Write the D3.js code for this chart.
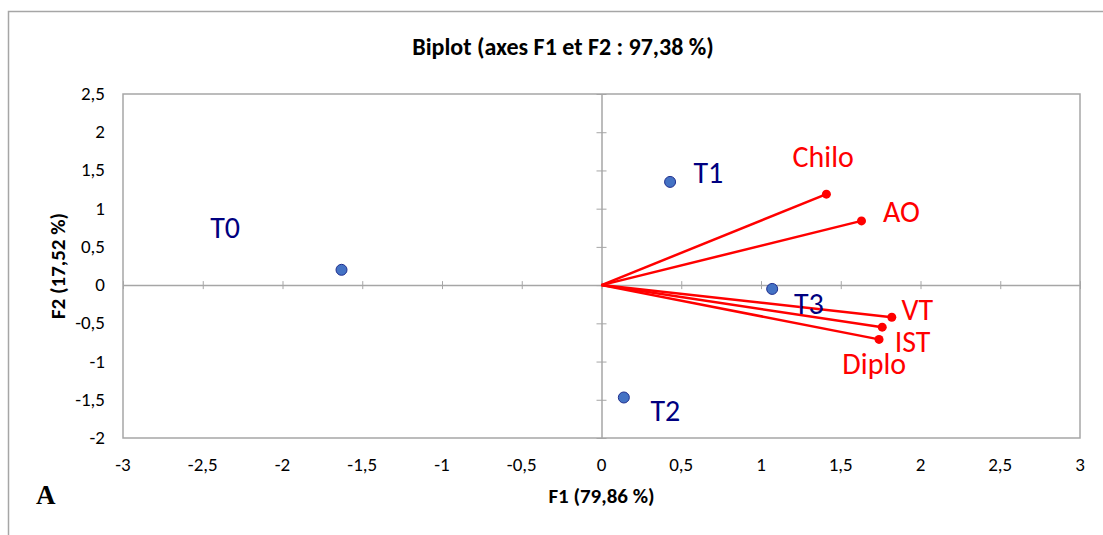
<!DOCTYPE html>
<html><head><meta charset="utf-8">
<script src="https://cdn.jsdelivr.net/npm/d3@7"></script>
<style>body{margin:0;background:#fff}svg{display:block}</style>
</head><body>
<svg id="c" width="1103" height="535"></svg>
<script>
// Observations (blue points)
const obsNames = ["T0", "T1", "T2", "T3"];
const obsF1 = [-1.63, 0.43, 0.14, 1.07];
const obsF2 = [0.20, 1.35, -1.47, -0.05];
// label anchors (data units)
const obsLabelF1 = [-2.36, 0.67, 0.40, 1.30];
const obsLabelF2 = [0.75, 1.47, -1.65, -0.25];

// Variables (red vectors)
const varNames = ["Chilo", "AO", "VT", "IST", "Diplo"];
const varF1 = [1.41, 1.63, 1.82, 1.76, 1.74];
const varF2 = [1.19, 0.84, -0.42, -0.55, -0.71];
const varLabelF1 = [1.39, 1.88, 1.98, 1.95, 1.71];
const varLabelF2 = [1.68, 0.95, -0.33, -0.74, -1.03];

const xTicks = [-3, -2.5, -2, -1.5, -1, -0.5, 0, 0.5, 1, 1.5, 2, 2.5, 3];
const yTicks = [-2, -1.5, -1, -0.5, 0, 0.5, 1, 1.5, 2, 2.5];

const title = "Biplot (axes F1 et F2 : 97,38 %)";
const xTitle = "F1 (79,86 %)";
const yTitle = "F2 (17,52 %)";

const svg = d3.select("#c");
const font = "Carlito, 'Open Sans', 'Noto Sans', sans-serif";
const gray = "#a6a6a6";

const x = d3.scaleLinear().domain([-3, 3]).range([123, 1080]);
const y = d3.scaleLinear().domain([-2, 2.5]).range([438, 94]);
const fmt = v => String(v).replace(".", ",");

// outer frame
svg.append("path").attr("d", "M8.5,535 V11.5 H1103").attr("fill", "none").attr("stroke", gray).attr("stroke-width", 1.5);

// title
svg.append("text").attr("x", 563).attr("y", 55).attr("text-anchor", "middle")
  .attr("font-family", font).attr("font-weight", "bold").attr("font-size", 24).attr("fill", "#000").text(title);

// plot border
svg.append("rect").attr("x", x(-3)).attr("y", y(2.5)).attr("width", x(3) - x(-3)).attr("height", y(-2) - y(2.5))
  .attr("fill", "none").attr("stroke", gray).attr("stroke-width", 1.5);

// axes through origin with ticks crossing
const xAxis = d3.axisBottom(x).tickValues(xTicks).tickSizeInner(8).tickSizeOuter(0).tickFormat("");
const gx = svg.append("g").attr("transform", `translate(0,${y(0) - 4})`).call(xAxis);
gx.select(".domain").attr("transform", "translate(0,4)");
gx.selectAll("line").attr("stroke", gray);
gx.select(".domain").attr("stroke", gray).attr("stroke-width", 1.5);

const yAxis = d3.axisRight(y).tickValues(yTicks).tickSizeInner(10).tickSizeOuter(0).tickFormat("");
const gy = svg.append("g").attr("transform", `translate(${x(0) - 5},0)`).call(yAxis);
gy.select(".domain").attr("transform", "translate(5,0)");
gy.selectAll("line").attr("stroke", gray);
gy.select(".domain").attr("stroke", gray).attr("stroke-width", 1.5);

// tick labels at plot edges
svg.append("g").selectAll("text").data(xTicks).join("text")
  .attr("x", d => x(d)).attr("y", 471).attr("text-anchor", "middle")
  .attr("font-family", font).attr("font-size", 19).attr("fill", "#000").text(fmt);
svg.append("g").selectAll("text").data(yTicks).join("text")
  .attr("x", 105).attr("y", d => y(d) + 6).attr("text-anchor", "end")
  .attr("font-family", font).attr("font-size", 19).attr("fill", "#000").text(fmt);

// axis titles
svg.append("text").attr("x", x(0)).attr("y", 503).attr("text-anchor", "middle")
  .attr("font-family", font).attr("font-weight", "bold").attr("font-size", 21).text(xTitle);
svg.append("text").attr("transform", `translate(65,${y(0.25)}) rotate(-90)`).attr("text-anchor", "middle")
  .attr("font-family", font).attr("font-weight", "bold").attr("font-size", 21).text(yTitle);

// "A"
svg.append("text").attr("x", 36).attr("y", 504).attr("font-family", "'Liberation Serif', 'DejaVu Serif', serif")
  .attr("font-weight", "bold").attr("font-size", 27).text("A");

// vectors
const vars = varNames.map((n, i) => ({n, f1: varF1[i], f2: varF2[i], lx: varLabelF1[i], ly: varLabelF2[i]}));
svg.append("g").selectAll("line").data(vars).join("line")
  .attr("x1", x(0)).attr("y1", y(0)).attr("x2", d => x(d.f1)).attr("y2", d => y(d.f2))
  .attr("stroke", "#ff0000").attr("stroke-width", 2.5);
svg.append("g").selectAll("circle").data(vars).join("circle")
  .attr("cx", d => x(d.f1)).attr("cy", d => y(d.f2)).attr("r", 4.5).attr("fill", "#ff0000");
svg.append("g").selectAll("text").data(vars).join("text")
  .attr("x", d => x(d.lx)).attr("y", d => y(d.ly) + 10).attr("text-anchor", "middle")
  .attr("font-family", font).attr("font-size", 30).attr("fill", "#ff0000").text(d => d.n);

// observations
const obs = obsNames.map((n, i) => ({n, f1: obsF1[i], f2: obsF2[i], lx: obsLabelF1[i], ly: obsLabelF2[i]}));
svg.append("g").selectAll("circle").data(obs).join("circle")
  .attr("cx", d => x(d.f1)).attr("cy", d => y(d.f2)).attr("r", 5.5)
  .attr("fill", "#4472c4").attr("stroke", "#1f2f8f").attr("stroke-width", 1);
svg.append("g").selectAll("text").data(obs).join("text")
  .attr("x", d => x(d.lx)).attr("y", d => y(d.ly) + 10).attr("text-anchor", "middle")
  .attr("font-family", font).attr("font-size", 30).attr("fill", "#000080").text(d => d.n);
</script>
</body></html>
